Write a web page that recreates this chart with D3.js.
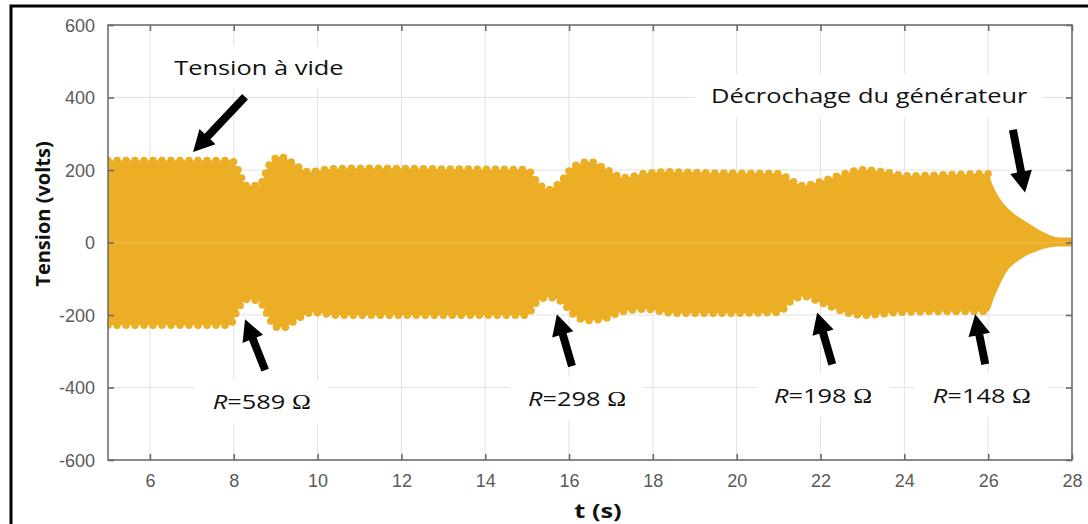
<!DOCTYPE html>
<html>
<head>
<meta charset="utf-8">
<script src="https://cdn.jsdelivr.net/npm/d3@7"></script>
<style>
  body { margin: 0; background: #ffffff; }
  svg { display: block; }
</style>
</head>
<body>
<svg id="chart" width="1088" height="524"></svg>
<script>
// ---------------- DATA ----------------
const xTicks = [6, 8, 10, 12, 14, 16, 18, 20, 22, 24, 26, 28];
const yTicks = [-600, -400, -200, 0, 200, 400, 600];

// upper envelope of the voltage band (t in s, V in volts)
const upperT = [5.0, 7.95, 8.1, 8.3, 8.6, 8.85, 9.1, 9.4, 9.8, 10.3, 11.0, 13.0, 15.0, 15.2, 15.5, 15.8, 16.1, 16.5, 16.9, 17.3, 17.8, 18.3, 19.5, 21.0, 21.3, 21.6, 22.0, 22.5, 23.0, 23.5, 24.1, 25.0, 26.0, 26.1, 26.3, 26.5, 26.9, 27.3, 27.7, 28.0];
const upperV = [226, 226, 201, 157, 157, 215, 237, 220, 195, 203, 205, 203, 201, 173, 146, 168, 209, 223, 201, 179, 190, 195, 192, 190, 171, 157, 168, 187, 201, 195, 184, 187, 190, 160, 118, 91, 58, 30, 14, 14];

// lower envelope of the voltage band
const lowerT = [5.0, 7.9, 8.1, 8.3, 8.6, 8.8, 9.0, 9.2, 9.5, 9.9, 10.5, 13.0, 15.0, 15.2, 15.5, 15.8, 16.1, 16.4, 16.8, 17.2, 17.8, 18.5, 20.0, 21.0, 21.3, 21.6, 22.0, 22.6, 23.1, 23.8, 25.0, 26.0, 26.15, 26.4, 26.8, 27.2, 27.7, 28.0];
const lowerV = [-228, -228, -184, -157, -162, -198, -234, -234, -212, -193, -201, -201, -201, -168, -151, -162, -198, -215, -212, -193, -184, -195, -195, -193, -162, -149, -165, -193, -201, -193, -190, -190, -149, -88, -44, -22, -11, -11];

// end of the steady oscillation (ripple visible until here)
const rippleEndT = 26.0;

// annotations
const topLabels = ["Tension à vide", "Décrochage du générateur"];
const topLabelT = [8.6, 23.16];
const topLabelV = [462, 385];
const topArrowTailT = [8.27, 26.59];
const topArrowTailV = [402, 311];
const topArrowTipT = [7.03, 26.88];
const topArrowTipV = [250, 138];

const resistances = [589, 298, 198, 148];
const resLabelT = [8.67, 16.19, 22.06, 25.85];
const resLabelV = [-460, -452, -442, -442];
const resArrowTailT = [8.75, 16.07, 22.28, 25.93];
const resArrowTailV = [-352, -341, -336, -336];
const resArrowTipT = [8.27, 15.71, 21.92, 25.69];
const resArrowTipV = [-212, -198, -193, -198];

const xLabel = "t (s)";
const yLabel = "Tension (volts)";

// ---------------- CHART ----------------
(function () {
const svg = d3.select("#chart");
const W = 1088, H = 524;
const mLeft = 108, mRight = 1072, mTop = 25, mBottom = 460;
const bandColor = "#ebae24";
const stretch = 1.27; // horizontal stretch of the lettering

const x = d3.scaleLinear().domain([5, 28]).range([mLeft, mRight]);
const y = d3.scaleLinear().domain([-600, 600]).range([mBottom, mTop]);

svg.append("rect").attr("width", W).attr("height", H).attr("fill", "#fff");

// outer frame (top and left edges)
svg.append("path")
  .attr("d", `M11,${H} L11,6 L${W},6`)
  .attr("fill", "none").attr("stroke", "#000").attr("stroke-width", 3);

// gridlines
const grid = svg.append("g");
grid.selectAll("line.gx").data(xTicks).join("line")
  .attr("x1", d => x(d)).attr("x2", d => x(d))
  .attr("y1", mTop).attr("y2", mBottom)
  .attr("stroke", "#e2e2e2").attr("stroke-width", 1);
grid.selectAll("line.gy").data(yTicks).join("line")
  .attr("x1", mLeft).attr("x2", mRight)
  .attr("y1", d => y(d)).attr("y2", d => y(d))
  .attr("stroke", "#e2e2e2").attr("stroke-width", 1);

// white boxes behind annotation texts
const boxLayer = svg.append("g");

// band
svg.append("clipPath").attr("id", "plotclip").append("rect")
  .attr("x", mLeft).attr("y", mTop).attr("width", mRight - mLeft).attr("height", mBottom - mTop);

const band = svg.append("g").attr("clip-path", "url(#plotclip)");
const upperPts = upperT.map((t, i) => [t, upperV[i]]);
const lowerPts = lowerT.map((t, i) => [t, lowerV[i]]);
const curve = d3.curveMonotoneX;

const area = d3.area().x(d => x(d[0])).y0(y(0)).y1(d => y(d[1])).curve(curve);
band.append("path").attr("d", area(upperPts)).attr("fill", bandColor);
band.append("path").attr("d", area(lowerPts)).attr("fill", bandColor);

// ripple on the envelope edges (small round scallops along the envelope)
const edge = d3.line().x(d => x(d[0])).y(d => y(d[1])).curve(curve);
[upperPts, lowerPts].forEach(pts => {
  const steady = pts.filter(d => d[0] <= rippleEndT + 0.01);
  band.append("path").attr("d", edge(steady))
    .attr("fill", "none").attr("stroke", bandColor)
    .attr("stroke-width", 7.5).attr("stroke-linecap", "round")
    .attr("stroke-dasharray", "0 9");
});

// plot box
svg.append("rect").attr("x", mLeft).attr("y", mTop)
  .attr("width", mRight - mLeft).attr("height", mBottom - mTop)
  .attr("fill", "none").attr("stroke", "#707070").attr("stroke-width", 1.6);

// axes
const tickColor = "#6a6a6a";
const fontTick = "'Liberation Sans', Arial, sans-serif";
const fmt = d => String(d);
const gx = svg.append("g").attr("transform", `translate(0,${mBottom})`)
  .call(d3.axisBottom(x).tickValues(xTicks).tickSize(-6).tickPadding(14).tickFormat(fmt));
const gy = svg.append("g").attr("transform", `translate(${mLeft},0)`)
  .call(d3.axisLeft(y).tickValues(yTicks).tickSize(-6).tickPadding(13).tickFormat(fmt));
const gxt = svg.append("g").attr("transform", `translate(0,${mTop})`)
  .call(d3.axisTop(x).tickValues(xTicks).tickSize(-6).tickFormat(""));
const gyr = svg.append("g").attr("transform", `translate(${mRight},0)`)
  .call(d3.axisRight(y).tickValues(yTicks).tickSize(-6).tickFormat(""));
[gx, gy, gxt, gyr].forEach(g => {
  g.select(".domain").remove();
  g.selectAll(".tick line").attr("stroke", tickColor).attr("stroke-width", 1.6);
  g.selectAll(".tick text").attr("fill", "#5a5a5a")
    .style("font-family", fontTick).style("font-size", "18px");
});
gy.selectAll(".tick text").attr("dy", "0.36em");

// stretched label helper: group translated to anchor point, scaled horizontally
function stretchedText(cx, cy, fontSize, weight, boxPad) {
  const g = svg.append("g").attr("transform", `translate(${cx},${cy}) scale(${stretch},1)`);
  const box = g.append("rect").attr("fill", "#fff");
  const t = g.append("text").attr("x", 0).attr("y", 0).attr("text-anchor", "middle")
    .style("font-family", "'Open Sans', 'Noto Sans', sans-serif")
    .style("font-size", fontSize + "px").style("font-weight", weight).attr("fill", "#111");
  return { g, box, t, pad: boxPad };
}
function fitBox(o) {
  if (!o.pad) { o.box.remove(); return; }
  const b = o.t.node().getBBox();
  o.box.attr("x", b.x - o.pad[0]).attr("y", b.y - o.pad[1])
    .attr("width", b.width + 2 * o.pad[0]).attr("height", b.height + 2 * o.pad[1]);
}

// axis titles
const xt = stretchedText(598, 518, 20, "bold", null);
xt.t.text(xLabel); fitBox(xt);
svg.append("text").text(yLabel)
  .attr("transform", "translate(50,214) rotate(-90)").attr("text-anchor", "middle")
  .style("font-family", "'Open Sans', 'Noto Sans', sans-serif").style("font-weight", "bold")
  .style("font-size", "20px").attr("fill", "#111");

// arrows
const arrowLayer = svg.append("g");
function arrow(x1, y1, x2, y2) {
  const dx = x2 - x1, dy = y2 - y1, L = Math.hypot(dx, dy);
  const ux = dx / L, uy = dy / L, nx = -uy, ny = ux;
  const sw = 4, hl = 21, hw = 11;
  const bx = x2 - ux * hl, by = y2 - uy * hl;
  const pts = [
    [x1 + nx * sw, y1 + ny * sw],
    [bx + nx * sw, by + ny * sw],
    [bx + nx * hw, by + ny * hw],
    [x2, y2],
    [bx - nx * hw, by - ny * hw],
    [bx - nx * sw, by - ny * sw],
    [x1 - nx * sw, y1 - ny * sw]
  ];
  arrowLayer.append("path").attr("d", "M" + pts.map(p => p.join(",")).join("L") + "Z").attr("fill", "#000");
}

topLabels.forEach((s, i) => {
  const o = stretchedText(x(topLabelT[i]), y(topLabelV[i]), 20, "normal", [12, 8]);
  o.t.text(s); fitBox(o);
  arrow(x(topArrowTailT[i]), y(topArrowTailV[i]), x(topArrowTipT[i]), y(topArrowTipV[i]));
});

resistances.forEach((r, i) => {
  const o = stretchedText(x(resLabelT[i]), y(resLabelV[i]), 20, "normal", [14, 8]);
  o.t.append("tspan").text("R").style("font-style", "italic");
  o.t.append("tspan").text("=" + r + " ");
  o.t.append("tspan").text("Ω").style("font-family", "'Liberation Serif', 'DejaVu Serif', serif");
  fitBox(o);
  arrow(x(resArrowTailT[i]), y(resArrowTailV[i]), x(resArrowTipT[i]), y(resArrowTipV[i]));
});
})();
</script>
</body>
</html>
